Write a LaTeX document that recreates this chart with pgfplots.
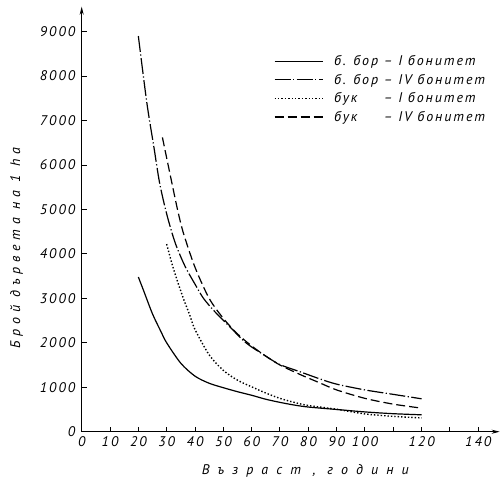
\documentclass[border=0pt]{standalone}
\usepackage{fontspec}
\setmainfont{PT Sans}[LetterSpace=15]
\usepackage{pgfplots}
\pgfplotsset{compat=1.18}
\usetikzlibrary{arrows.meta}

% second column: name padded to the width of "б. бор "
\newcommand{\lbl}[1]{\hspace*{9bp}\makebox[0pt][l]{#1}\phantom{б. бор }}

\begin{document}
\begin{tikzpicture}
\begin{axis}[
    scale only axis,
    width=418bp, height=425bp,
    xmin=0, xmax=147.6,
    ymin=0, ymax=9560,
    axis lines=left,
    axis line style={line width=1.1bp, -{Stealth[length=8bp,width=4bp]}},
    tick align=inside,
    major tick length=5bp,
    tick style={black, line width=0.9bp},
    xtick={0,10,...,140},
    xticklabels={0,10,20,30,40,50,60,70,80,90,100,,120,,140},
    ytick={0,1000,...,9000},
    scaled y ticks=false,
    /pgf/number format/assume math mode=true,
    /pgf/number format/1000 sep={},
    tick label style={font=\fontsize{14}{16}\selectfont\itshape},
    yticklabel style={xshift=-3bp},
    xticklabel style={yshift=-1bp},
    xlabel={\addfontfeatures{LetterSpace=58}Възраст , години},
    ylabel={\addfontfeatures{LetterSpace=34}Брой дървета на 1 ha},
    label style={font=\fontsize{14}{16}\selectfont\itshape},
    xlabel style={at={(rel axis cs:0.535,-0.101)}, anchor=base},
    ylabel style={at={(rel axis cs:-0.132,0.432)}, anchor=south},
    legend style={at={(rel axis cs:0.452,0.895)}, anchor=north west, draw=none, fill=none,
        font=\fontsize{14}{16}\selectfont\itshape\addfontfeatures{LetterSpace=14}, row sep=3bp},
    legend cell align=left,
    legend image code/.code={\draw[#1] (0bp,0bp) -- (48bp,0bp);},
]
% б. бор - I бонитет
\addplot[black, line width=1.2bp, smooth] coordinates {(20,3480)(22,3150)(25,2650)(28,2250)(30,2000)(35,1540)(40,1250)(45,1090)(50,990)(55,900)(60,820)(65,730)(70,660)(75,600)(80,555)(90,500)(100,445)(110,405)(120,380)};
% б. бор - IV бонитет
\addplot[black, line width=1.2bp, smooth, dash pattern=on 16bp off 2.5bp on 1.2bp off 2.5bp] coordinates {(20,8900)(23,7400)(25.5,6400)(27.5,5600)(30,4900)(33,4250)(36.5,3720)(40,3320)(43,3000)(47,2700)(52,2380)(58,2000)(65,1700)(70,1510)(77,1350)(84,1190)(90,1070)(100,940)(110,840)(120,740)};
% бук - I бонитет
\addplot[black, line width=1.4bp, smooth, dash pattern=on 1.4bp off 2bp] coordinates {(30,4220)(32,3750)(34,3350)(36,2980)(38,2650)(40,2300)(45,1730)(50,1380)(55,1160)(60,1010)(65,870)(70,750)(75,660)(80,590)(90,505)(100,400)(110,345)(120,310)};
% бук - IV бонитет
\addplot[black, line width=1.2bp, smooth, dash pattern=on 9bp off 4bp] coordinates {(28.5,6620)(31.5,5700)(34,4950)(36,4450)(40,3700)(45,3000)(50,2550)(55,2200)(60,1930)(65,1700)(70,1500)(77,1290)(84,1100)(90,940)(100,750)(110,620)(120,530)};
\legend{\lbl{б. бор}– I бонитет, \lbl{б. бор}– IV бонитет, \lbl{бук}– I бонитет, \lbl{бук}– IV бонитет}
\end{axis}
\pgfresetboundingbox
\path (-81.7bp,-53.3bp) rectangle (421.3bp,431.7bp);
\end{tikzpicture}
\end{document}
